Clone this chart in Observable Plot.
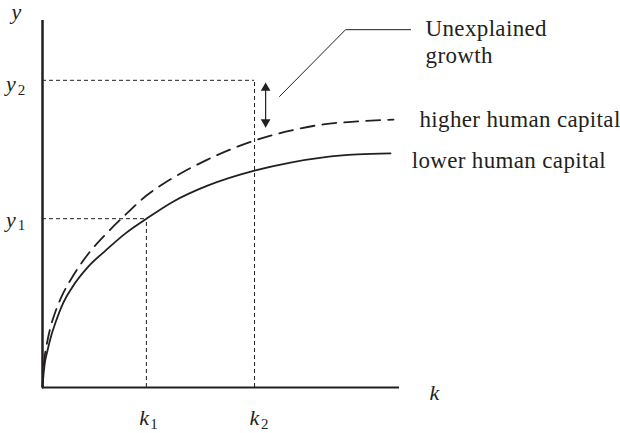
<!DOCTYPE html>
<html>
<head>
<meta charset="utf-8">
<script src="https://cdn.jsdelivr.net/npm/d3@7"></script>
<script src="https://cdn.jsdelivr.net/npm/@observablehq/plot@0.6"></script>
<style>
  html, body { margin: 0; padding: 0; background: #fff; }
</style>
</head>
<body>
<div id="chart"></div>
<script>
// Output per worker (y) as function of capital per worker (k)
const lowerK = [0, 0.014, 0.056, 0.14, 0.252, 0.364, 0.56, 0.812, 1.289, 1.765, 2.325, 2.913, 3.669, 4.622, 5.938, 6.947, 7.871, 8.824, 9.748];
const lowerY = [0, 0.19, 0.60, 1.01, 1.44, 1.77, 2.26, 2.70, 3.30, 3.73, 4.20, 4.60, 5.07, 5.50, 5.91, 6.13, 6.27, 6.35, 6.38];
const higherK = [0, 0.014, 0.056, 0.14, 0.252, 0.364, 0.56, 0.812, 1.289, 1.765, 2.325, 2.913, 3.669, 4.622, 5.938, 6.947, 7.871, 8.824, 9.832];
const higherY = [0, 0.30, 0.79, 1.28, 1.74, 2.07, 2.53, 2.97, 3.65, 4.17, 4.71, 5.23, 5.72, 6.21, 6.73, 7.00, 7.17, 7.25, 7.30];

const k1 = 2.91, k2 = 5.94;
const y1 = 4.60, y2 = 8.37;

const seriesLabels = ["higher human capital", "lower human capital"];
const annotationLabel = "Unexplained\ngrowth";

const lower = lowerK.map((k, i) => ({k, y: lowerY[i]}));
const higher = higherK.map((k, i) => ({k, y: higherY[i]}));

// gap between y2 and the higher curve at k2 (unexplained growth)
const arrowX = 6.25, arrowTop = 8.28, arrowBottom = 7.11;
const leader = [{k: 6.64, y: 7.93}, {k: 8.49, y: 9.75}, {k: 10.31, y: 9.75}];

const serif = "'Liberation Serif', 'Times New Roman', serif";
const ink = "#231f20";

const chart = Plot.plot({
  width: 620,
  height: 433,
  margin: 0,
  x: {domain: [0, 10], range: [42, 399], axis: null},
  y: {domain: [0, 10], range: [387, 20], axis: null},
  style: {fontFamily: serif, background: "white", color: ink, letterSpacing: "0.35px"},
  marks: [
    // dashed guides
    Plot.ruleY([y2], {x1: 0, x2: k2, stroke: ink, strokeWidth: 1, strokeDasharray: "4,3"}),
    Plot.ruleX([k2], {y1: 0, y2: y2, stroke: ink, strokeWidth: 1, strokeDasharray: "4,3"}),
    Plot.ruleY([y1], {x1: 0, x2: k1, stroke: ink, strokeWidth: 1, strokeDasharray: "4,3"}),
    Plot.ruleX([k1], {y1: 0, y2: y1, stroke: ink, strokeWidth: 1, strokeDasharray: "4,3"}),
    // curves
    Plot.line(higher, {x: "k", y: "y", curve: "monotone-x", stroke: ink, strokeWidth: 1.8, strokeDasharray: "14,8"}),
    Plot.line(lower, {x: "k", y: "y", curve: "monotone-x", stroke: ink, strokeWidth: 1.8}),
    // axes
    Plot.ruleX([0], {y1: 0, y2: 10, stroke: ink, strokeWidth: 2.5}),
    Plot.ruleY([0], {x1: 0, x2: 10, stroke: ink, strokeWidth: 2}),
    // double arrow
    Plot.link([{x1: arrowX, y1: arrowTop - 0.15, x2: arrowX, y2: arrowBottom + 0.15}], {x1: "x1", y1: "y1", x2: "x2", y2: "y2", stroke: ink, strokeWidth: 1.2}),
    Plot.dot([{k: arrowX, y: arrowTop - 0.12, r: 0}, {k: arrowX, y: arrowBottom + 0.12, r: 180}], {x: "k", y: "y", symbol: "triangle", rotate: "r", r: 3.6, fill: ink, stroke: "none"}),
    // leader line
    Plot.line(leader, {x: "k", y: "y", stroke: ink, strokeWidth: 1}),
    // labels
    Plot.text([annotationLabel], {x: 10.73, y: 8.83, text: d => d, textAnchor: "start", lineAnchor: "bottom", fontSize: 23, lineHeight: 1.18, fontFamily: serif, fill: ink}),
    Plot.text([seriesLabels[0]], {x: 10.56, y: 7.11, text: d => d, textAnchor: "start", lineAnchor: "bottom", fontSize: 23, fontFamily: serif, fill: ink}),
    Plot.text([seriesLabels[1]], {x: 10.34, y: 5.97, text: d => d, textAnchor: "start", lineAnchor: "bottom", fontSize: 23, fontFamily: serif, fill: ink}),
    // axis letters
    Plot.text(["y"], {x: -0.73, y: 10.03, text: d => d, textAnchor: "middle", lineAnchor: "bottom", fontSize: 22, fontStyle: "italic", fontFamily: serif, fill: ink}),
    Plot.text(["k"], {x: 10.98, y: -0.35, text: d => d, textAnchor: "middle", lineAnchor: "bottom", fontSize: 22, fontStyle: "italic", fontFamily: serif, fill: ink}),
    // y1, y2
    Plot.text(["y", "y"], {x: [-0.88, -0.88], y: [y1 - 0.24, y2 - 0.30], text: d => d, textAnchor: "middle", lineAnchor: "bottom", fontSize: 22, fontStyle: "italic", fontFamily: serif, fill: ink}),
    Plot.text(["1", "2"], {x: [-0.58, -0.58], y: [y1 - 0.30, y2 - 0.40], text: d => d, textAnchor: "middle", lineAnchor: "bottom", fontSize: 15, fontFamily: serif, fill: ink}),
    // k1, k2
    Plot.text(["k", "k"], {x: [k1 - 0.06, k2], y: [-1.03, -1.03], text: d => d, textAnchor: "middle", lineAnchor: "bottom", fontSize: 22, fontStyle: "italic", fontFamily: serif, fill: ink}),
    Plot.text(["1", "2"], {x: [k1 + 0.22, k2 + 0.29], y: [-1.12, -1.12], text: d => d, textAnchor: "middle", lineAnchor: "bottom", fontSize: 15, fontFamily: serif, fill: ink})
  ]
});

document.getElementById("chart").appendChild(chart);
</script>
</body>
</html>
